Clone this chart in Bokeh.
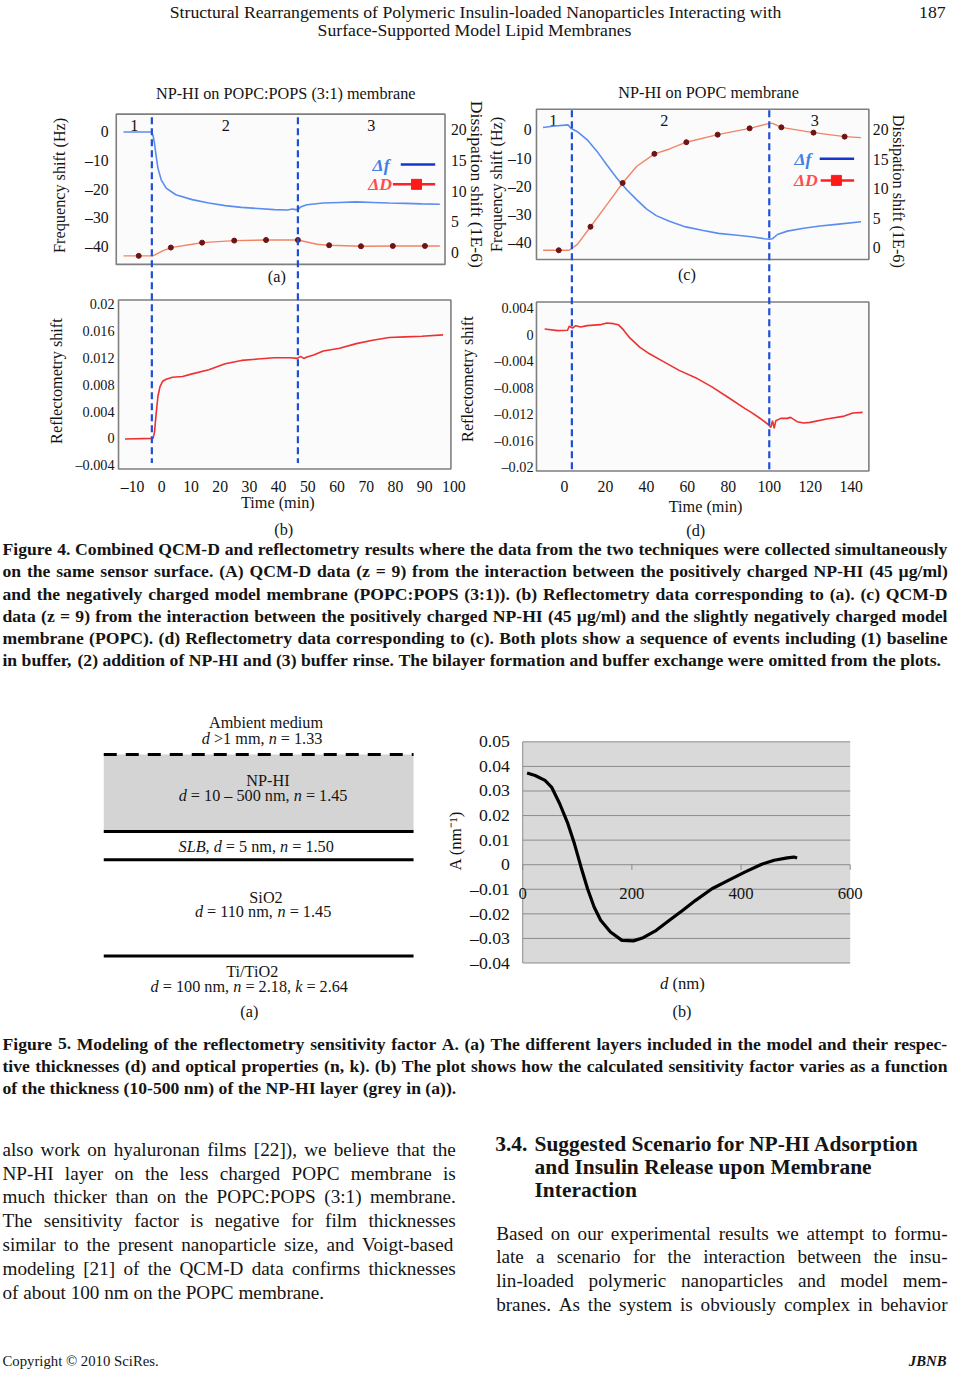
import math
from bokeh.plotting import figure
from bokeh.models import Range1d
from bokeh.core.properties import value
from bokeh.embed import file_html
from bokeh.resources import INLINE

# ===================== DATA =====================
# Figure 4 (a) QCM-D, NP-HI on POPC:POPS (3:1)
a_f_time = [-13.1, -3.6, -3.0, -2.5, -1.9, -1.3, -0.2, 1.5, 4.8, 10.4, 16.1, 21.7, 27.3, 32.9, 38.5,
            43.0, 44.7, 45.8, 46.6, 47.5, 49.7, 55.3, 60.9, 66.6, 72.2, 77.8, 83.4, 89.0, 95.2]
a_f_hz = [0, 0, -1.15, -4.0, -8.6, -12.7, -16.7, -19.6, -21.9, -23.6, -24.8, -25.7, -26.3, -26.7, -27.1,
          -27.2, -26.9, -27.1, -27.1, -26.2, -25.4, -24.8, -24.6, -24.4, -24.6, -24.8, -24.9, -25.1, -25.2]
a_d_time = [-13.1, -3.0, 0.3, 3.1, 10.4, 13.8, 24.8, 35.7, 46.6, 49.7, 53.1, 57.3, 68.2, 79.1, 90.1, 95.2]
a_d_val = [-0.54, -0.54, 0.27, 0.81, 1.35, 1.62, 1.95, 2.05, 2.05, 1.73, 1.35, 1.19, 1.03, 1.08, 1.08, 1.08]
a_dm_time = [-7.9, 3.1, 13.8, 24.8, 35.7, 46.6, 57.3, 68.2, 79.1, 90.1]
a_dm_val = [-0.54, 0.81, 1.62, 1.95, 2.05, 2.05, 1.19, 1.03, 1.08, 1.08]
ab_events = [-3.4, 46.6]

# Figure 4 (b) reflectometry, POPC:POPS (3:1)
b_time = [-12.6, -3.0, -2.5, -1.9, -1.3, -0.6, 0.3, 1.5, 3.7, 7.1, 10.4, 16.1, 21.7, 27.3, 32.9,
          38.5, 44.1, 46.4, 47.5, 48.6, 49.7, 52.0, 55.3, 60.9, 66.6, 72.2, 77.8, 83.4, 89.0, 96.3]
b_val = [-0.0001, 0.0, 0.0009, 0.0038, 0.0063, 0.0077, 0.0085, 0.0088, 0.0091, 0.0092, 0.0096, 0.0102,
         0.0111, 0.0116, 0.0118, 0.0120, 0.0120, 0.0119, 0.0122, 0.0119, 0.0121, 0.0124, 0.0130, 0.0134,
         0.0141, 0.0146, 0.0150, 0.0151, 0.0152, 0.0154]

# Figure 4 (c) QCM-D, NP-HI on POPC
c_f_time = [-10.5, -4.9, 1.8, 3.1, 6.3, 11.1, 15.9, 20.7, 25.6, 30.4, 35.2, 40.0, 44.8, 51.2, 59.2,
            67.2, 75.2, 83.2, 91.2, 97.6, 100.0, 101.6, 104.0, 108.8, 116.8, 124.8, 132.8, 144.8]
c_f_hz = [0.9, 1.4, 1.8, 0.6, -0.6, -3.5, -7.6, -12.4, -17.1, -21.2, -24.7, -28.0, -30.4, -32.4, -34.4,
          -35.6, -36.7, -37.3, -37.9, -38.6, -38.8, -38.6, -37.1, -35.9, -34.9, -34.1, -33.5, -32.6]
c_d_time = [-10.5, 2.3, 6.3, 12.7, 20.7, 28.4, 35.2, 43.9, 51.0, 59.5, 74.8, 90.4, 100.0, 101.6,
            105.9, 121.6, 136.8, 144.8]
c_d_val = [-0.45, -0.45, 0.56, 3.55, 7.32, 10.99, 13.8, 15.94, 16.73, 17.92, 19.21, 20.28, 21.13, 21.13,
           20.45, 19.55, 18.87, 18.7]
c_dm_time = [-2.8, 12.7, 28.4, 43.9, 59.5, 74.8, 90.4, 105.9, 121.6, 136.8]
c_dm_val = [-0.45, 3.55, 10.99, 15.94, 17.92, 19.21, 20.28, 20.45, 19.55, 18.87]
cd_events = [3.6, 100.0]

# Figure 4 (d) reflectometry, POPC
d_time = [-9.7, -3.3, 1.5, 2.3, 3.9, 5.5, 7.9, 11.1, 17.5, 20.7, 23.9, 26.3, 28.7, 31.9, 36.7, 41.5,
          47.9, 56.0, 64.0, 72.0, 80.0, 88.0, 91.2, 96.0, 99.2, 100.8, 101.6, 102.4, 103.2, 105.6,
          108.8, 110.4, 113.6, 116.8, 120.0, 128.0, 136.0, 140.8, 145.6]
d_val = [0.00085, 0.0006, 0.00065, 0.00125, 0.001, 0.00135, 0.00115, 0.00135, 0.0015, 0.00175, 0.00165,
         0.0015, 0.00075, -0.0005, -0.0019, -0.0029, -0.004, -0.0054, -0.0065, -0.0079, -0.0095,
         -0.01115, -0.01175, -0.01275, -0.0135, -0.014, -0.013, -0.01415, -0.013, -0.01265, -0.01265,
         -0.0125, -0.01315, -0.01335, -0.01325, -0.01275, -0.01235, -0.01185, -0.01175]

# Figure 5 (b) sensitivity factor
fig5_d = [8, 22.8, 40.8, 52.8, 67.8, 82.8, 94.8, 106.8, 118.8, 130.8, 142.8, 160.8, 181.8, 202.8, 220.8,
          244.8, 268.8, 292.8, 316.8, 346.8, 376.8, 406.8, 436.8, 460.8, 484.8, 496.8, 502.8]
fig5_A = [0.0373, 0.0363, 0.0343, 0.0316, 0.0248, 0.0167, 0.0085, -0.0009, -0.0098, -0.0172, -0.0226,
          -0.0274, -0.0308, -0.0310, -0.0297, -0.0267, -0.0226, -0.0186, -0.0145, -0.0098, -0.0064,
          -0.0030, 0.0001, 0.0018, 0.0028, 0.0031, 0.0027]

# ticks
freq_ticks = [0, -10, -20, -30, -40]
diss_ticks = [0, 5, 10, 15, 20]
b_refl_ticks = [0.02, 0.016, 0.012, 0.008, 0.004, 0, -0.004]
d_refl_ticks = [0.004, 0, -0.004, -0.008, -0.012, -0.016, -0.02]
b_time_ticks = [-10, 0, 10, 20, 30, 40, 50, 60, 70, 80, 90, 100]
d_time_ticks = [0, 20, 40, 60, 80, 100, 120, 140]
fig5_A_ticks = [0.05, 0.04, 0.03, 0.02, 0.01, 0, -0.01, -0.02, -0.03, -0.04]
fig5_d_ticks = [0, 200, 400, 600]

# texts
header_lines = ["Structural Rearrangements of Polymeric Insulin-loaded Nanoparticles Interacting with",
                "Surface-Supported Model Lipid Membranes"]
page_number = "187"
fig4_caption = [
    "Figure 4. Combined QCM-D and reflectometry results where the data from the two techniques were collected simultaneously",
    "on the same sensor surface. (A) QCM-D data (z = 9) from the interaction between the positively charged NP-HI (45 µg/ml)",
    "and the negatively charged model membrane (POPC:POPS (3:1)). (b) Reflectometry data corresponding to (a). (c) QCM-D",
    "data (z = 9) from the interaction between the positively charged NP-HI (45 µg/ml) and the slightly negatively charged model",
    "membrane (POPC). (d) Reflectometry data corresponding to (c). Both plots show a sequence of events including (1) baseline",
    "in buffer, (2) addition of NP-HI and (3) buffer rinse. The bilayer formation and buffer exchange were omitted from the plots.",
]
fig5_caption = [
    "Figure 5. Modeling of the reflectometry sensitivity factor A. (a) The different layers included in the model and their respec-",
    "tive thicknesses (d) and optical properties (n, k). (b) The plot shows how the calculated sensitivity factor varies as a function",
    "of the thickness (10-500 nm) of the NP-HI layer (grey in (a)).",
]
body_left = [
    "also work on hyaluronan films [22]), we believe that the",
    "NP-HI layer on the less charged POPC membrane is",
    "much thicker than on the POPC:POPS (3:1) membrane.",
    "The sensitivity factor is negative for film thicknesses",
    "similar to the present nanoparticle size, and Voigt-based",
    "modeling [21] of the QCM-D data confirms thicknesses",
    "of about 100 nm on the POPC membrane.",
]
heading_num = "3.4."
heading_lines = ["Suggested Scenario for NP-HI Adsorption", "and Insulin Release upon Membrane", "Interaction"]
body_right = [
    "Based on our experimental results we attempt to formu-",
    "late a scenario for the interaction between the insu-",
    "lin-loaded polymeric nanoparticles and model mem-",
    "branes. As the system is obviously complex in behavior",
]
footer_left = "Copyright © 2010 SciRes."
footer_right = "JBNB"

# ===================== FONT METRICS (Times-compatible, per 1000 em) =====================
_ASC = [chr(c) for c in range(32, 127)]
_TRW = ([250, 333, 408, 500, 500, 833, 778, 180, 333, 333, 500, 564, 250, 333, 250, 278] + [500] * 10 +
        [278, 278, 564, 564, 564, 444, 921] +
        [722, 667, 667, 722, 611, 556, 722, 722, 333, 389, 722, 611, 889, 722, 722, 556, 722, 667, 556, 611,
         722, 722, 944, 722, 722, 611] + [333, 278, 333, 469, 500, 333] +
        [444, 500, 444, 500, 444, 333, 500, 500, 278, 278, 500, 278, 778, 500, 500, 500, 500, 333, 389, 278,
         500, 500, 722, 500, 500, 444] + [480, 200, 480, 541])
_TBW = ([250, 333, 555, 500, 500, 1000, 833, 278, 333, 333, 500, 570, 250, 333, 250, 278] + [500] * 10 +
        [333, 333, 570, 570, 570, 500, 930] +
        [722, 667, 722, 722, 667, 611, 778, 778, 389, 500, 778, 667, 944, 722, 778, 611, 778, 722, 556, 667,
         722, 722, 1000, 722, 722, 667] + [333, 278, 333, 581, 500, 333] +
        [500, 556, 444, 556, 444, 333, 500, 556, 278, 333, 556, 278, 833, 556, 500, 556, 556, 444, 389, 333,
         556, 500, 722, 500, 500, 444] + [394, 220, 394, 520])
TR = dict(zip(_ASC, _TRW)); TR.update({"µ": 500, "–": 500, "©": 760, "Δ": 612, "−": 564, "⁻": 330, "¹": 300})
TB = dict(zip(_ASC, _TBW)); TB.update({"µ": 556, "–": 500, "©": 747, "Δ": 612, "−": 570})
TI = dict(TR); TI.update({"S": 500, "L": 556, "B": 611, "d": 500, "n": 500, "k": 444})


def tw(s, size, bold=False, italic=False):
    t = TB if bold else (TI if italic else TR)
    return sum(t.get(c, 500) for c in s) * size / 1000.0


SERIF = "Liberation Serif"

# ===================== PAGE FIGURE =====================
# page coordinates follow the 966 x 1386 reference; the figure maps them onto 950 x 1370 px
PX0, PX1, PY0, PY1 = 0, 966, 0, 1386
FW, FH = 950, 1370
FS = FW / (PX1 - PX0)  # screen px per page unit
p = figure(width=FW, height=FH, x_range=Range1d(PX0, PX1), y_range=Range1d(PY1, PY0),
           x_axis_type=None, y_axis_type=None, output_backend="svg", toolbar_location=None,
           min_border=0)
p.outline_line_color = None
p.background_fill_color = "white"
p.border_fill_color = "white"


def xr(px0, v0, px1, v1):
    b = (px1 - px0) / (v1 - v0); a = px0 - b * v0
    return Range1d((PX0 - a) / b, (PX1 - a) / b)


def yr(py0, v0, py1, v1):
    b = (py1 - py0) / (v1 - v0); a = py0 - b * v0
    return Range1d((PY1 - a) / b, (PY0 - a) / b)


p.extra_x_ranges = {
    "t_ab": xr(164, 0, 461, 100),
    "t_cd": xr(573.5, 0, 865, 140),
    "d5": xr(531, 0, 864, 600),
}
p.extra_y_ranges = {
    "fa": yr(133, 0, 249, -40),
    "da": yr(255, 0, 131, 20),
    "rb": yr(443, 0, 307, 0.02),
    "fc": yr(131, 0, 245, -40),
    "dc": yr(250, 0, 131, 20),
    "rd": yr(338, 0, 472, -0.02),
    "a5": yr(874.3, 0, 750, 0.05),
}


def fpx(size):
    return value(f"{size * FS:.2f}px")


def T(x, y, s, size, style="normal", color="#141414", align="center", angle=0.0,
      xn="default", yn="default", baseline="middle"):
    p.text(x=[x], y=[y], text=[s], text_font=value(SERIF), text_font_size=fpx(size),
           text_font_style=style, text_color=color, text_align=align, text_baseline=baseline,
           angle=angle, x_range_name=xn, y_range_name=yn)


def fmt(v):
    s = "%g" % abs(v)
    return ("–" if v < 0 else "") + s


def block(lines, x0, x1, y0, dy, size, bold=False, justify_last=False, color="#141414"):
    xs, ys, ts = [], [], []
    for i, line in enumerate(lines):
        words = line.split(" ")
        ww = [tw(w, size, bold) for w in words]
        last = (i == len(lines) - 1) and not justify_last
        if last or len(words) == 1:
            gap = tw(" ", size, bold)
        else:
            gap = (x1 - x0 - sum(ww)) / (len(words) - 1)
        x = x0
        for w, wd in zip(words, ww):
            xs.append(x); ys.append(y0 + i * dy); ts.append(w)
            x += wd + gap
    p.text(x=xs, y=ys, text=ts, text_font=value(SERIF), text_font_size=fpx(size),
           text_font_style="bold" if bold else "normal", text_color=color,
           text_align="left", text_baseline="middle")


def fit_size(lines, width, bold):
    return min(width / tw(l, 1.0, bold) for l in lines) * 0.995


# ---------------- header / footer ----------------
hsize = 622 / tw(header_lines[0], 1.0)
T(483, 12, header_lines[0], hsize)
T(482, 30, header_lines[1], hsize)
T(961, 12, page_number, hsize, align="right")
T(2, 1376, footer_left, 15, align="left")
T(962, 1376, footer_right, 15, style="bold italic", align="right")

# ---------------- Figure 4 panels ----------------
BOX = "#7f7f7f"
PANEL_BG = "#fbfbfb"
F_COL = "#5b8def"
D_COL = "#f28466"
M_COL = "#6e1414"
R_COL = "#ee3030"
EV_COL = "#1f4fd6"
TICK_Q = 16
TICK_R = 14.5
TICK_X = 16
LAB = 16.5


def frame(x0, y0, x1, y1):
    p.quad(left=x0, right=x1, top=y0, bottom=y1, fill_color=PANEL_BG, line_color=BOX, line_width=1.6)


# (a)
frame(117.7, 115, 452, 267)
T(290, 95, "NP-HI on POPC:POPS (3:1) membrane", LAB)
for v in freq_ticks:
    T(110, v, fmt(v), TICK_Q, align="right", yn="fa")
for v in diss_ticks:
    T(458, v, fmt(v), TICK_Q, align="left", yn="da")
T(61, 187, "Frequency shift (Hz)", LAB, angle=math.pi / 2)
T(485, 186, "Dissipation shift (1E-6)", 18, angle=-math.pi / 2)
for lbl, xx in (("1", 136), ("2", 229), ("3", 377)):
    T(xx, 126, lbl, LAB)
p.line(a_f_time, a_f_hz, x_range_name="t_ab", y_range_name="fa", line_color=F_COL, line_width=1.6)
p.line(a_d_time, a_d_val, x_range_name="t_ab", y_range_name="da", line_color=D_COL, line_width=1.4)
p.scatter(a_dm_time, a_dm_val, x_range_name="t_ab", y_range_name="da", size=5, color=M_COL)
T(387, 166, "Δf", 18, style="bold italic", color="#3f7fe6")
p.segment(x0=[407], y0=[166], x1=[442], y1=[166], line_color="#1435d0", line_width=2.5)
T(386, 186, "ΔD", 18, style="bold italic", color="#ff4d4d")
p.segment(x0=[399], y0=[186], x1=[442], y1=[186], line_color="#ff2020", line_width=2.5)
p.scatter([423], [186], marker="square", size=10, color="#ff1a1a")
T(281, 280, "(a)", LAB)

# (b)
frame(120, 303, 458, 474)
for v in b_refl_ticks:
    T(116, v, fmt(v), TICK_R, align="right", yn="rb")
for v in b_time_ticks:
    T(v, 492, fmt(v), TICK_X, xn="t_ab")
T(57, 385, "Reflectometry shift", LAB, angle=math.pi / 2)
T(282, 508, "Time (min)", LAB)
T(288, 536, "(b)", LAB)
p.line(b_time, b_val, x_range_name="t_ab", y_range_name="rb", line_color=R_COL, line_width=1.6)

# (c)
frame(545, 110, 883, 262)
T(720, 94, "NP-HI on POPC membrane", LAB)
for v in freq_ticks:
    T(540, v, fmt(v), TICK_Q, align="right", yn="fc")
for v in diss_ticks:
    T(887, v, fmt(v), TICK_Q, align="left", yn="dc")
T(505, 186, "Frequency shift (Hz)", LAB, angle=math.pi / 2)
T(913, 193, "Dissipation shift (1E-6)", LAB, angle=-math.pi / 2)
for lbl, xx in (("1", 562), ("2", 675), ("3", 828)):
    T(xx, 121, lbl, LAB)
p.line(c_f_time, c_f_hz, x_range_name="t_cd", y_range_name="fc", line_color=F_COL, line_width=1.6)
p.line(c_d_time, c_d_val, x_range_name="t_cd", y_range_name="dc", line_color=D_COL, line_width=1.4)
p.scatter(c_dm_time, c_dm_val, x_range_name="t_cd", y_range_name="dc", size=5, color=M_COL)
T(816, 160, "Δf", 18, style="bold italic", color="#3f7fe6")
p.segment(x0=[833], y0=[160], x1=[868], y1=[160], line_color="#1435d0", line_width=2.5)
T(819, 182, "ΔD", 18, style="bold italic", color="#ff4d4d")
p.segment(x0=[834], y0=[182], x1=[868], y1=[182], line_color="#ff2020", line_width=2.5)
p.scatter([850], [182], marker="square", size=10, color="#ff1a1a")
T(698, 278, "(c)", LAB)

# (d)
frame(545, 305, 883, 476)
for v in d_refl_ticks:
    T(542, v, fmt(v), TICK_R, align="right", yn="rd")
for v in d_time_ticks:
    T(v, 492, fmt(v), TICK_X, xn="t_cd")
T(475, 383, "Reflectometry shift", LAB, angle=math.pi / 2)
T(717, 512, "Time (min)", LAB)
T(707, 537, "(d)", LAB)
p.line(d_time, d_val, x_range_name="t_cd", y_range_name="rd", line_color=R_COL, line_width=1.6)

# event lines (dashed)
p.segment(x0=ab_events, y0=[118] * 2, x1=ab_events, y1=[468] * 2, x_range_name="t_ab",
          line_color=EV_COL, line_width=2.2, line_dash="7 4")
p.segment(x0=cd_events, y0=[111] * 2, x1=cd_events, y1=[476] * 2, x_range_name="t_cd",
          line_color=EV_COL, line_width=2.2, line_dash="7 4")

# ---------------- Figure 4 caption ----------------
cap_size = fit_size(fig4_caption[:-1] + fig5_caption[:2], 961, True)
block(fig4_caption, 2, 963, 555, 22.5, cap_size, bold=True)

# ---------------- Figure 5 (a): layer model ----------------
LS = 16.5
p.quad(left=105, right=420, top=762.7, bottom=840.7, fill_color="#d4d4d4", line_color=None)
p.segment(x0=[105], y0=[762.7], x1=[420], y1=[762.7], line_color="black", line_width=3, line_dash="13 9")
p.segment(x0=[105] * 3, y0=[840.7, 869.3, 966.7], x1=[420] * 3, y1=[840.7, 869.3, 966.7],
          line_color="black", line_width=3)


def rich(xc, y, segs, size):
    total = sum(tw(s, size, italic=(st == "italic")) for s, st in segs)
    x = xc - total / 2
    for s, st in segs:
        it = st == "italic"
        lead = len(s) - len(s.lstrip(" "))
        core = s.strip(" ")
        if core:
            T(x + tw(" " * lead, size), y, core, size, style=st, align="left")
        x += tw(s, size, italic=it)


T(270, 731, "Ambient medium", LS)
rich(266, 747, [("d", "italic"), (" >1 mm, ", "normal"), ("n", "italic"), (" = 1.33", "normal")], LS)
T(272, 790, "NP-HI", LS)
rich(267, 805, [("d", "italic"), (" = 10 – 500 nm, ", "normal"), ("n", "italic"), (" = 1.45", "normal")], LS)
rich(260, 856, [("SLB", "italic"), (", ", "normal"), ("d", "italic"), (" = 5 nm, ", "normal"),
                ("n", "italic"), (" = 1.50", "normal")], LS)
T(270, 908, "SiO2", LS)
rich(267, 922, [("d", "italic"), (" = 110 nm, ", "normal"), ("n", "italic"), (" = 1.45", "normal")], LS)
T(256, 983, "Ti/TiO2", LS)
rich(253, 998, [("d", "italic"), (" = 100 nm, ", "normal"), ("n", "italic"), (" = 2.18, ", "normal"),
                ("k", "italic"), (" = 2.64", "normal")], LS)
T(253, 1023, "(a)", LS)

# ---------------- Figure 5 (b): sensitivity factor ----------------
p.quad(left=[0], right=[600], top=[0.05], bottom=[-0.04], x_range_name="d5", y_range_name="a5",
       fill_color="#d9d9d9", line_color=None)
p.segment(x0=[0] * len(fig5_A_ticks), y0=fig5_A_ticks, x1=[600] * len(fig5_A_ticks), y1=fig5_A_ticks,
          x_range_name="d5", y_range_name="a5", line_color="#8c8c8c", line_width=1)
p.segment(x0=[0], y0=[-0.04], x1=[0], y1=[0.05], x_range_name="d5", y_range_name="a5",
          line_color="#8c8c8c", line_width=1)
p.segment(x0=fig5_d_ticks, y0=[874.3] * 4, x1=fig5_d_ticks, y1=[879.5] * 4, x_range_name="d5",
          line_color="#8c8c8c", line_width=1)
p.line(fig5_d, fig5_A, x_range_name="d5", y_range_name="a5", line_color="black", line_width=3.2)
for v in fig5_A_ticks:
    T(518, v, fmt(v), 18, align="right", yn="a5")
for v in fig5_d_ticks:
    T(v, 903, fmt(v), 17, xn="d5")
T(463, 850, "A (nm⁻¹)", 17, angle=math.pi / 2)
T(670.5, 994, "d", 17, style="italic", align="left")
T(670.5 + tw("d ", 17), 994, "(nm)", 17, align="left")
T(693, 1023, "(b)", LS)

# ---------------- Figure 5 caption ----------------
block(fig5_caption, 2, 963, 1055.5, 22.3, cap_size, bold=True)

# ---------------- body text ----------------
BODY = 19.5
block(body_left, 2, 463, 1162, 24.2, BODY)
HS = 21.8
T(503, 1157, heading_num, HS, style="bold", align="left")
for i, hl in enumerate(heading_lines):
    T(543, 1157 + 23 * i, hl, HS, style="bold", align="left")
block(body_right, 504, 963, 1247, 24, BODY, justify_last=True)

open("out.html", "w").write(file_html(p, INLINE))
